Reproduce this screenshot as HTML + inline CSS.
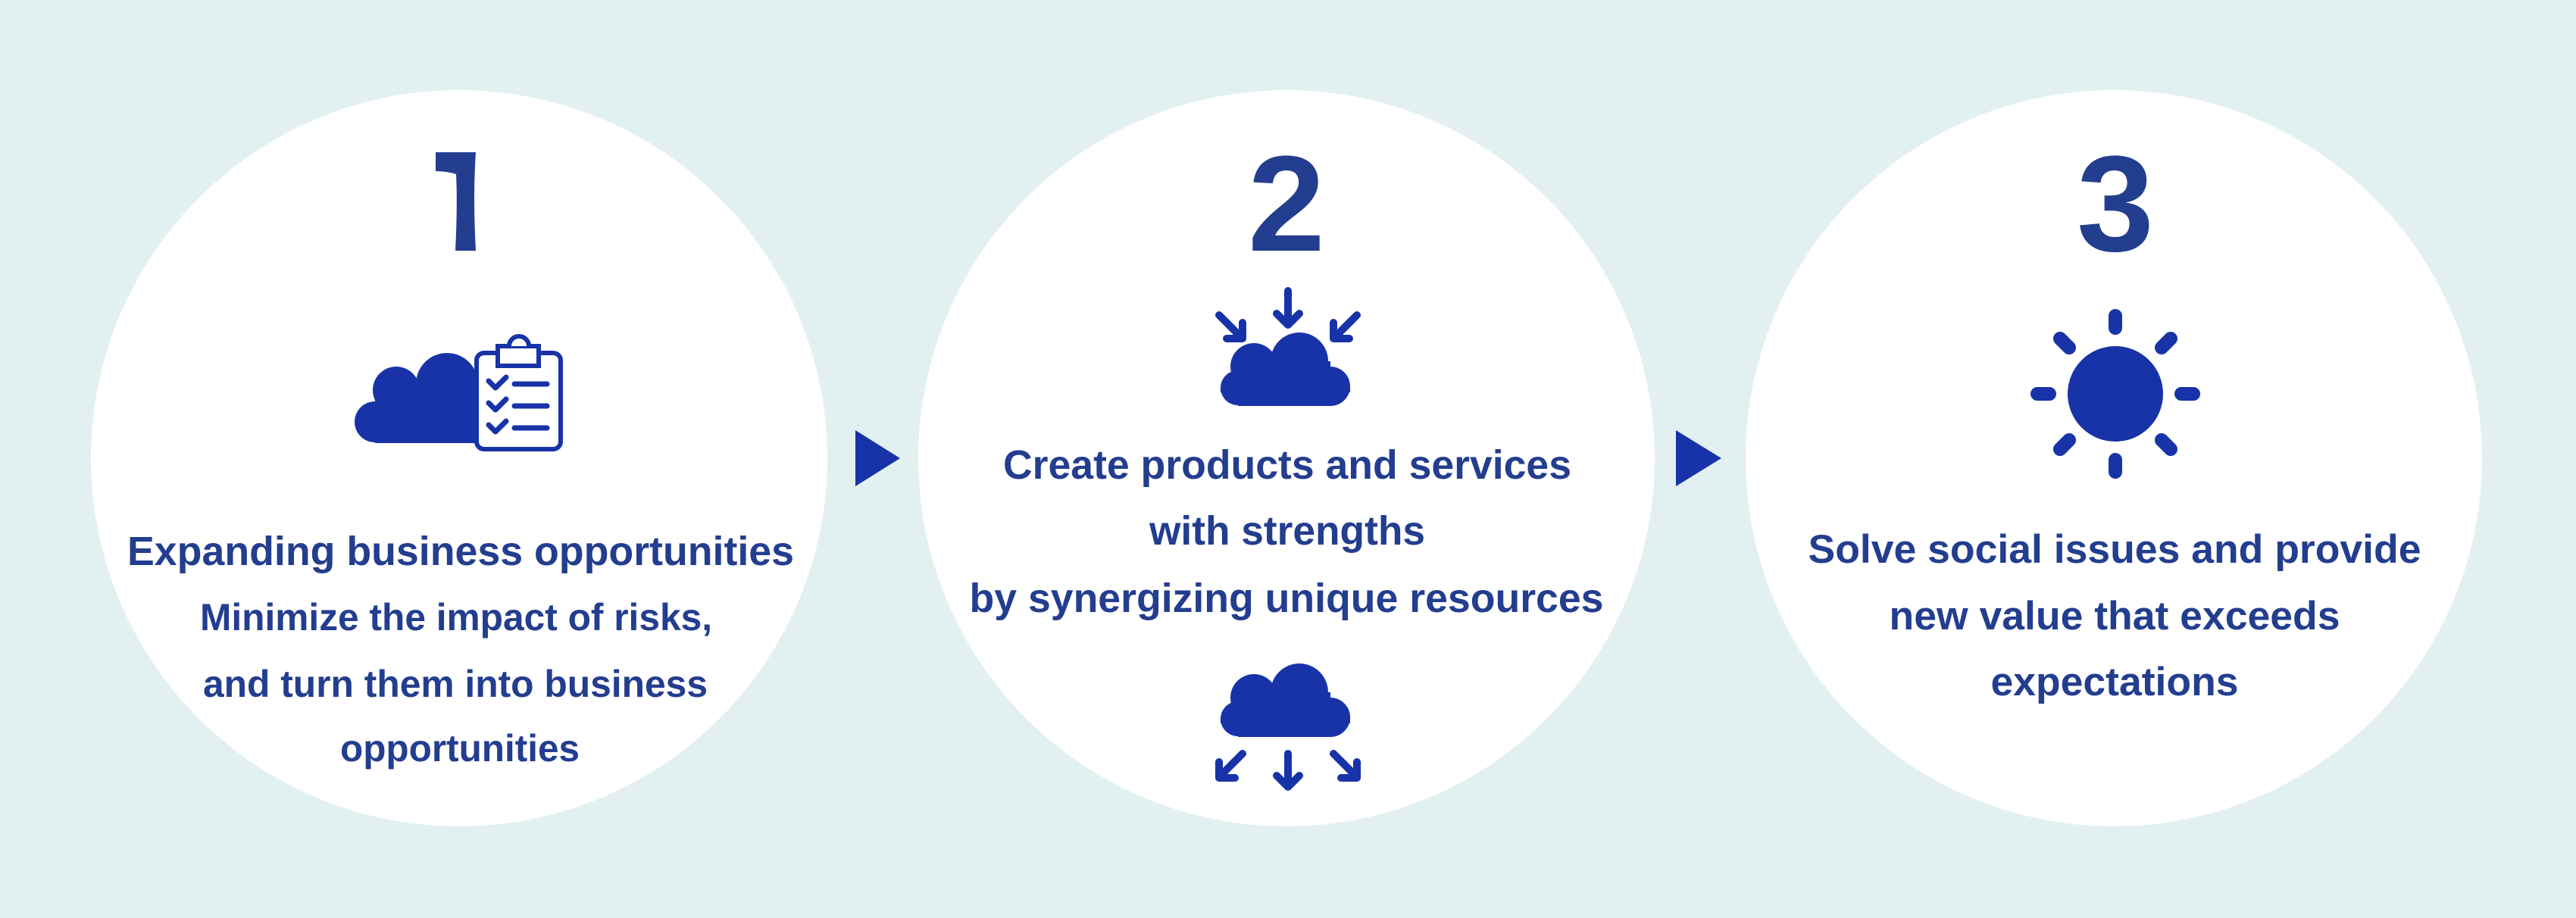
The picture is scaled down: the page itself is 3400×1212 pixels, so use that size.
<!DOCTYPE html>
<html><head><meta charset="utf-8"><style>
html,body{margin:0;padding:0;background:#e2f0f1;}
svg{display:block;}
text{font-family:"Liberation Sans",Arial,sans-serif;fill:#233d8f;font-weight:bold;text-anchor:middle;}
</style></head><body>
<svg width="3400" height="1212" viewBox="0 0 3400 1212" xmlns="http://www.w3.org/2000/svg">
<rect width="3400" height="1212" fill="#e2f0f1"/>
<circle cx="606" cy="605" r="486" fill="#fff"/>
<circle cx="1698" cy="605" r="486" fill="#fff"/>
<circle cx="2790" cy="605" r="486" fill="#fff"/>
<polygon points="1129,568 1188,605 1129,642" fill="#1833a8"/>
<polygon points="2212,568 2272,605 2212,642" fill="#1833a8"/>

<path d="M575,201 L628,201 Q624,260 628,331 L601,331 Q604,270 602,230 Q590,226 575,226 Z" fill="#233d8f"/>
<text x="1698" y="331" style="font-size:180px;font-weight:bold" textLength="102" lengthAdjust="spacingAndGlyphs">2</text>
<text x="2792" y="331" style="font-size:180px;font-weight:bold" textLength="102" lengthAdjust="spacingAndGlyphs">3</text>

<!-- icon 1 -->
<g fill="#1833a8">
<circle cx="495" cy="557" r="27"/>
<circle cx="523" cy="515" r="31"/>
<circle cx="590" cy="507" r="41"/>
<rect x="495" y="507" width="140" height="78"/>
<rect x="520" y="515" width="80" height="50"/>
</g>
<rect x="629" y="466" width="111" height="127" rx="10" fill="#fff" stroke="#1833a8" stroke-width="6"/>
<rect x="657" y="457" width="54" height="26" fill="#fff" stroke="#1833a8" stroke-width="6"/>
<path d="M672,457 a13,13 0 0 1 26,0" fill="#fff" stroke="#1833a8" stroke-width="6"/>
<g stroke="#1833a8" stroke-width="7" stroke-linecap="round" stroke-linejoin="round" fill="none">
<line x1="679" y1="507" x2="722" y2="507"/><line x1="679" y1="536" x2="722" y2="536"/><line x1="679" y1="565" x2="722" y2="565"/>
<polyline points="645,503 654,512 668,498"/><polyline points="645,532 654,541 668,527"/><polyline points="645,561 654,570 668,556"/>
</g>

<!-- icon 2 top -->
<g id="cl" fill="#1833a8">
<circle cx="1634" cy="512" r="23"/>
<circle cx="1655" cy="484" r="31"/>
<circle cx="1715" cy="477" r="38"/>
<circle cx="1756" cy="510" r="26"/>
<rect x="1634" y="477" width="122" height="59"/>
<rect x="1611" y="512" width="171" height="6"/>
</g>
<g stroke="#1833a8" stroke-width="10" stroke-linecap="round" stroke-linejoin="round" fill="none">
<line x1="1700" y1="384" x2="1700" y2="425"/><polyline points="1685,414 1700,429 1715,414"/>
<line x1="1609" y1="416" x2="1633" y2="440"/><polyline points="1640,426 1640,447 1619,447"/>
<line x1="1791" y1="416" x2="1767" y2="440"/><polyline points="1760,426 1760,447 1781,447"/>
</g>
<use href="#cl" y="437"/>
<g stroke="#1833a8" stroke-width="10" stroke-linecap="round" stroke-linejoin="round" fill="none">
<line x1="1700" y1="995" x2="1700" y2="1035"/><polyline points="1685,1024 1700,1039 1715,1024"/>
<line x1="1640" y1="995" x2="1616" y2="1019"/><polyline points="1609,1006 1609,1027 1630,1027"/>
<line x1="1760" y1="995" x2="1784" y2="1019"/><polyline points="1791,1006 1791,1027 1770,1027"/>
</g>

<!-- sun -->
<circle cx="2792" cy="520" r="63" fill="#1833a8"/>
<g stroke="#1833a8" stroke-width="18" stroke-linecap="round">
<line x1="2792" y1="417" x2="2792" y2="433"/><line x1="2792" y1="607" x2="2792" y2="623"/>
<line x1="2689" y1="520" x2="2705" y2="520"/><line x1="2879" y1="520" x2="2895" y2="520"/>
<line x1="2719" y1="447" x2="2731" y2="459"/><line x1="2865" y1="447" x2="2853" y2="459"/>
<line x1="2719" y1="593" x2="2731" y2="581"/><line x1="2865" y1="593" x2="2853" y2="581"/>
</g>

<!-- texts -->
<text x="608" y="746" font-size="54" textLength="880" lengthAdjust="spacingAndGlyphs">Expanding business opportunities</text>
<text x="602" y="832" font-size="50" textLength="676" lengthAdjust="spacingAndGlyphs">Minimize the impact of risks,</text>
<text x="601" y="920" font-size="50" textLength="666" lengthAdjust="spacingAndGlyphs">and turn them into business</text>
<text x="607" y="1005" font-size="50" textLength="316" lengthAdjust="spacingAndGlyphs">opportunities</text>

<text x="1699" y="632" font-size="54" textLength="750" lengthAdjust="spacingAndGlyphs">Create products and services</text>
<text x="1699" y="719" font-size="54" textLength="364" lengthAdjust="spacingAndGlyphs">with strengths</text>
<text x="1698" y="808" font-size="54" textLength="837" lengthAdjust="spacingAndGlyphs">by synergizing unique resources</text>

<text x="2791" y="743" font-size="53" textLength="809" lengthAdjust="spacingAndGlyphs">Solve social issues and provide</text>
<text x="2791" y="831" font-size="53" textLength="595" lengthAdjust="spacingAndGlyphs">new value that exceeds</text>
<text x="2791" y="918" font-size="53" textLength="327" lengthAdjust="spacingAndGlyphs">expectations</text>
</svg>
</body></html>
